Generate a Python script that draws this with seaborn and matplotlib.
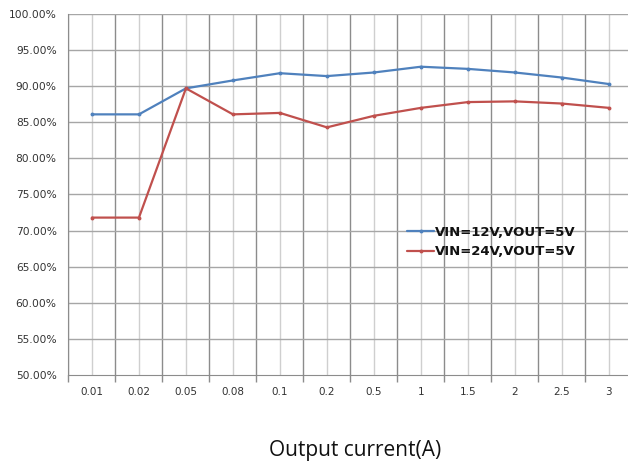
import numpy as np
import pandas as pd
import seaborn as sns
import matplotlib.pyplot as plt
from matplotlib.ticker import FixedLocator, PercentFormatter

# Efficiency readings (%) vs output current
currents = ["0.01", "0.02", "0.05", "0.08", "0.1", "0.2", "0.5", "1", "1.5", "2", "2.5", "3"]
eff_12v = [86.1, 86.1, 89.7, 90.8, 91.8, 91.4, 91.9, 92.7, 92.4, 91.9, 91.2, 90.3]
eff_24v = [71.8, 71.8, 89.7, 86.1, 86.3, 84.3, 85.9, 87.0, 87.8, 87.9, 87.6, 87.0]
series_names = ["VIN=12V,VOUT=5V", "VIN=24V,VOUT=5V"]

pos = np.arange(len(currents))
df = pd.DataFrame({
    "pos": np.concatenate([pos, pos]),
    "eff": eff_12v + eff_24v,
    "series": [series_names[0]] * len(pos) + [series_names[1]] * len(pos),
})

sns.set_style("white")
fig = plt.figure(figsize=(6.28, 4.61), dpi=100)
ax = fig.add_axes([0.109, 0.1866, 0.898, 0.783])

# gridlines: light at category centres, darker at category boundaries
for p in pos:
    ax.axvline(p, color="#cfcfcf", lw=1.0, zorder=0)
for b in np.arange(-0.5, len(currents) + 0.5, 1.0):
    ax.axvline(b, color="#8c8c8c", lw=1.0, zorder=0)
for yv in np.arange(55, 101, 5):
    ax.axhline(yv, color="#a6a6a6", lw=1.0, zorder=0)

sns.lineplot(data=df, x="pos", y="eff", hue="series",
             palette=["#4f81bd", "#c0504d"], marker="o", markersize=2.8,
             markeredgewidth=0, linewidth=1.6, ax=ax)

ax.set_xlim(-0.5, len(currents) - 0.5)
ax.set_ylim(50, 100)
ax.set_yticks(np.arange(50, 101, 5))
ax.yaxis.set_major_formatter(PercentFormatter(decimals=2))
ax.set_xticks(pos)
ax.set_xticklabels(currents)
ax.xaxis.set_minor_locator(FixedLocator(np.arange(-0.5, len(currents) + 0.5, 1.0)))
ax.tick_params(axis="x", which="major", length=0, pad=9, labelsize=7.5, colors="#333333")
ax.tick_params(axis="x", which="minor", length=5, width=1, color="#8c8c8c", direction="out")
ax.tick_params(axis="y", length=5, width=1, color="#8c8c8c", direction="out",
               labelsize=7.7, colors="#333333")
ax.tick_params(axis="x", which="minor", bottom=True)

for s in ["top", "right"]:
    ax.spines[s].set_visible(False)
ax.spines["left"].set_color("#8c8c8c")
ax.spines["bottom"].set_color("#8c8c8c")

ax.set_ylabel("")
ax.set_xlabel("")
fig.text(0.566, 0.0, "Output current(A)", ha="center", va="bottom",
         fontsize=15, family="Open Sans", color="#111111")

handles, labels = ax.get_legend_handles_labels()
leg = ax.legend(handles, labels, loc="upper left", bbox_to_anchor=(0.58, 0.446),
                frameon=False, handlelength=2.0, handletextpad=0.1,
                labelspacing=0.5, prop={"weight": "bold", "size": 9.5})
for t in leg.get_texts():
    t.set_color("#111111")

fig.savefig("out.png", dpi=100)
